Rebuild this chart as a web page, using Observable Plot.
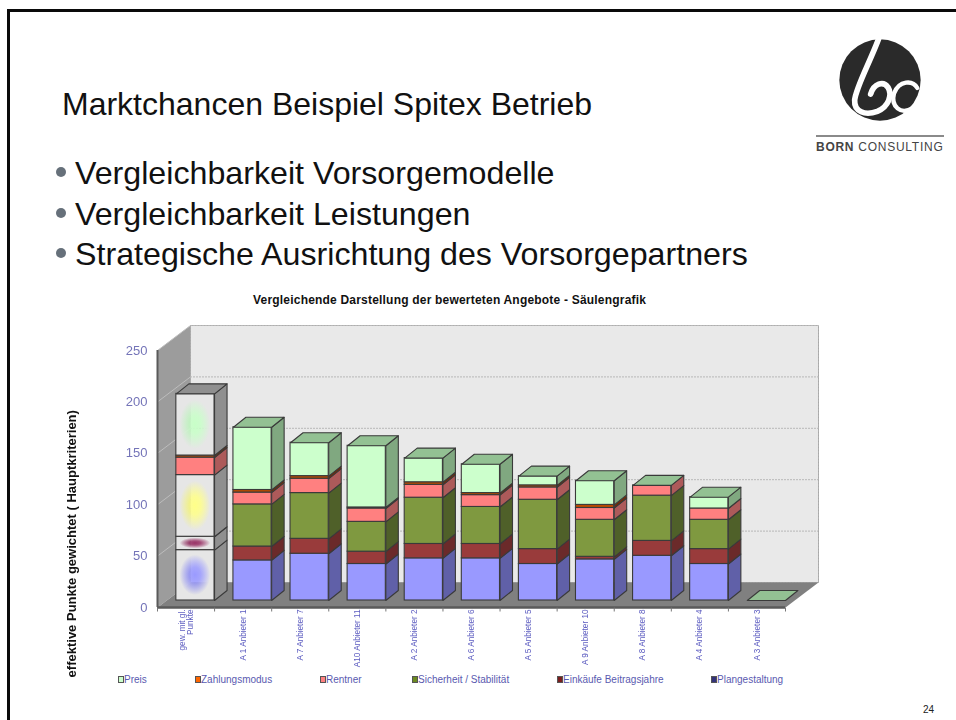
<!DOCTYPE html>
<html><head><meta charset="utf-8">
<script src="https://cdn.jsdelivr.net/npm/d3@7"></script>
<script src="https://cdn.jsdelivr.net/npm/@observablehq/plot@0.6"></script>
<style>
html,body{margin:0;padding:0;background:#fff}
#slide{position:relative;width:956px;height:720px;overflow:hidden;font-family:"Liberation Sans",Arial,sans-serif;color:#111}
#frameT{position:absolute;left:7px;top:9px;width:949px;height:3px;background:#0a0a0a}
#frameL{position:absolute;left:7px;top:9px;width:3px;height:711px;background:#0a0a0a}
.abs{position:absolute;white-space:nowrap}
#h{left:62px;top:85px;font-size:32px;line-height:38px}
.b{left:75px;font-size:32.2px;line-height:38px}
.d{position:absolute;left:56px;width:10px;height:10px;border-radius:50%;background:#66707a}
#ct{left:253px;top:293px;font-size:12px;font-weight:bold;line-height:14px;letter-spacing:.2px;color:#111}
#chart{position:absolute;left:0;top:290px;filter:blur(.35px)}
.leg{position:absolute;top:674px;font-size:10px;line-height:12px;color:#5a5ab0;white-space:nowrap}
.leg i{display:inline-block;width:4px;height:5px;border:1px solid #555;margin-right:0;vertical-align:0}
#pg{left:923px;top:704px;font-size:10px;line-height:12px;color:#222}
</style></head><body>
<div id="slide">
<div id="frameT"></div><div id="frameL"></div>
<div class="abs" id="h">Marktchancen Beispiel Spitex Betrieb</div>
<span class="d" style="top:167px"></span><div class="abs b" style="top:154px">Vergleichbarkeit Vorsorgemodelle</div>
<span class="d" style="top:208px"></span><div class="abs b" style="top:195px">Vergleichbarkeit Leistungen</div>
<span class="d" style="top:248px"></span><div class="abs b" style="top:235px">Strategische Ausrichtung des Vorsorgepartners</div>
<svg class="abs" style="left:780px;top:0" width="176" height="170" viewBox="0 0 528 510">
<circle cx="300" cy="240" r="122" fill="#2a2a2a"/>
<g fill="none" stroke="#fff" stroke-linecap="round">
<path d="M296 116 C268 190 228 262 224 300 C222 335 255 348 292 334 C326 320 338 285 324 262 C310 242 282 250 272 282" stroke-width="17"/>
<path d="M412 264 C398 240 358 240 342 280 C332 320 362 346 398 324" stroke-width="13"/>
</g>
<rect x="108" y="405" width="384" height="6" fill="#8a8a8a"/>
<text x="108" y="453" font-family="Liberation Sans,sans-serif" font-size="36" fill="#444" letter-spacing="2.2"><tspan font-weight="bold">BORN</tspan> CONSULTING</text>
</svg>
<div class="abs" id="ct">Vergleichende Darstellung der bewerteten Angebote - Säulengrafik</div>
<svg width="0" height="0" style="position:absolute"><defs id="defs"></defs></svg>
<div id="chart"></div>
<div id="legend"></div>
<div class="abs" id="pg">24</div>
</div>
<script>
// ---- data ----
const categories = ["gew. mit gl.\nPunkte","A 1 Anbieter 1","A 7 Anbieter 7","A10 Anbieter 11","A 2 Anbieter 2","A 6 Anbieter 6","A 5 Anbieter 5","A 9 Anbieter 10","A 8 Anbieter 8","A 4 Anbieter 4","A 3 Anbieter 3"];
const plangestaltung = [49,39,45.5,35.5,41,41,35.5,40,43.5,35.5,0];
const einkaeufe      = [13,13.5,14.5,12,14,14,14.5,2.5,14.5,14.5,0];
const sicherheit     = [60,41,44.5,29,45,36,48,36,44,28.5,0];
const rentner        = [17,11.5,14,13,12.5,11.5,12,11.5,10,11,0];
const zahlungsmodus  = [2,2.5,2.5,1,2.5,2,2,3,0,0,0];
const preis          = [60,61,32.5,60,23.5,28,9,23.5,0,11,0];
const yTicks = [0,50,100,150,200,250];
const axisTitle = "effektive Punkte gewichtet ( Hauptkriterien)";

// stacking order bottom to top; colours: front, side, top
const series = [
  {name:"Plangestaltung",       v:plangestaltung, front:"#9999ff", side:"#6060a8", top:"#8080c8", glow:"#9a9aff", key:"#33337a"},
  {name:"Einkäufe Beitragsjahre",v:einkaeufe,     front:"#993b3b", side:"#6b2a2a", top:"#7a3030", glow:"#993366", key:"#7a1e1e"},
  {name:"Sicherheit / Stabilität",v:sicherheit,   front:"#7f9940", side:"#4f6029", top:"#6a8035", glow:"#ffff88", key:"#6b8a20"},
  {name:"Rentner",              v:rentner,        front:"#ff8080", side:"#ad5a5a", top:"#c06a6a", glow:null,      key:"#ff8080"},
  {name:"Zahlungsmodus",        v:zahlungsmodus,  front:"#b84a00", side:"#7a2a00", top:"#993d00", glow:null,      key:"#ff6600"},
  {name:"Preis",                v:preis,          front:"#ccffcc", side:"#80a880", top:"#93c193", glow:"#c8ffc8", key:"#ccffcc"}
];
const legendOrder = [["Preis",118],["Zahlungsmodus",195],["Rentner",320],["Sicherheit / Stabilität",412],["Einkäufe Beitragsjahre",557],["Plangestaltung",711]];

// ---- geometry of the pseudo-3D drawing ----
const left=157,right=785,zeroY=317,topY=60,svgH=400;   // plot frame in svg pixels
const pxX=(right-left)/categories.length, pxY=(zeroY-topY)/250;
const X=p=>p/pxX, Y=p=>p/pxY;                     // pixel offset -> data units
const wallDX=X(33), wallDY=Y(25);
const barShiftX=X(9.4), barShiftY=Y(7), halfW=X(19.1), depthX=X(12.5), depthY=Y(10);
const xMin=-.5, xMax=categories.length-.5, yMax=250;

// gradient glows for the reference column
const defs=document.getElementById("defs");
series.forEach((s,k)=>{ if(!s.glow) return;
  defs.innerHTML+=`<radialGradient id="glow${k}" cx=".5" cy=".5" r=".5"><stop offset="0" stop-color="${s.glow}"/><stop offset=".3" stop-color="${s.glow}" stop-opacity=".85"/><stop offset=".8" stop-color="#e6e6e6"/></radialGradient>`;
});

const bars=[];
categories.forEach((c,i)=>{
  const cx=i+barShiftX; let base=0;
  series.forEach((s,k)=>{
    const v=s.v[i];
    const b=base+barShiftY, t=base+v+barShiftY;
    if(v>0){
      const grey=i===0&&s.glow;
      bars.push({kind:"side",pts:[[cx+halfW,b],[cx+halfW+depthX,b+depthY],[cx+halfW+depthX,t+depthY],[cx+halfW,t]],fill:grey?"#8f8f8f":s.side});
      bars.push({kind:"front",x1:cx-halfW,x2:cx+halfW,y1:b,y2:t,fill:grey?`url(#glow${k})`:s.front});
    }
    base+=v;
  });
  const tp=base+barShiftY;
  const topFill=i===0?"#8f8f8f":series[5].top;
  bars.push({kind:"top",pts:[[cx-halfW,tp],[cx+halfW,tp],[cx+halfW+depthX,tp+depthY],[cx-halfW+depthX,tp+depthY]],fill:topFill});
});

const marks=[];
const polyMark=(pts,fill,stroke,sw,dash)=>Plot.line(pts.map(([x,y])=>({x,y})),{x:"x",y:"y",fill,stroke:stroke||"none",strokeWidth:sw||1,strokeDasharray:dash,curve:"linear-closed"});
// walls and floor
marks.push(polyMark([[xMin,0],[xMin+wallDX,wallDY],[xMin+wallDX,yMax+wallDY],[xMin,yMax]],"#9c9c9c"));
marks.push(polyMark([[xMin+wallDX,wallDY],[xMax+wallDX,wallDY],[xMax+wallDX,yMax+wallDY],[xMin+wallDX,yMax+wallDY]],"#e9e9e9","#a8a8a8",1,"2,1"));
marks.push(polyMark([[xMin,0],[xMax,0],[xMax+wallDX,wallDY],[xMin+wallDX,wallDY]],"#808080"));
// gridlines on side wall and back wall
marks.push(Plot.link(yTicks.slice(1),{x1:xMin,x2:xMin+wallDX,y1:d=>d,y2:d=>d+wallDY,stroke:"#bdbdbd",strokeWidth:1}));
marks.push(Plot.ruleY(yTicks.slice(1),{x1:xMin+wallDX,x2:xMax+wallDX,y:d=>d+wallDY,stroke:"#b8b8b8",strokeWidth:1,strokeDasharray:"2,1"}));
// axis edges
marks.push(Plot.ruleX([xMin],{y1:0,y2:yMax,stroke:"#5a5a5a",strokeWidth:2}));
marks.push(Plot.ruleY([0],{x1:xMin,x2:xMax,stroke:"#5a5a5a",strokeWidth:2.5}));
// ticks between categories
marks.push(Plot.link(d3.range(categories.length+1).map(i=>i-.5),{x1:d=>d,x2:d=>d,y1:0,y2:-Y(4),stroke:"#777"}));
// bars
bars.forEach(b=>{
  if(b.kind==="front") marks.push(Plot.rectY([b],{x1:"x1",x2:"x2",y1:"y1",y2:"y2",fill:"fill",stroke:"#3a3a3a",strokeWidth:1.1}));
  else marks.push(polyMark(b.pts,b.fill,"#3a3a3a",1.1));
});
// axis title
marks.push(Plot.text([axisTitle],{text:d=>d,frameAnchor:"left",textAnchor:"middle",y:()=>62,dx:-86,rotate:-90,fontSize:13,fontWeight:"bold",fill:"#111",fontFamily:"Liberation Sans"}));
// axes
marks.push(Plot.axisY(yTicks,{anchor:"left",tickSize:0,tickPadding:10,fontSize:13,fill:"#7474b8",label:null,fontFamily:"Liberation Sans"}));
marks.push(Plot.axisX(d3.range(categories.length),{anchor:"bottom",tickSize:0,tickPadding:2,tickRotate:-90,tickFormat:i=>categories[i],fontSize:8.2,fill:"#5c5cc0",label:null,fontFamily:"Liberation Sans",lineHeight:1}));

const plot=Plot.plot({
  width:956,height:svgH,
  marginLeft:left,marginRight:956-right,marginTop:topY,marginBottom:svgH-zeroY,
  x:{type:"linear",domain:[xMin,xMax]},
  y:{type:"linear",domain:[0,yMax]},
  style:{background:"transparent",overflow:"visible"},
  marks
});
document.getElementById("chart").appendChild(plot);

// legend, below the chart
const lg=document.getElementById("legend");
legendOrder.forEach(([n,x])=>{
  const s=series.find(d=>d.name===n);
  const e=document.createElement("div");e.className="leg";e.style.left=x+"px";
  e.innerHTML=`<i style="background:${s.key}"></i>${n}`;
  lg.appendChild(e);
});
</script>
</body></html>
